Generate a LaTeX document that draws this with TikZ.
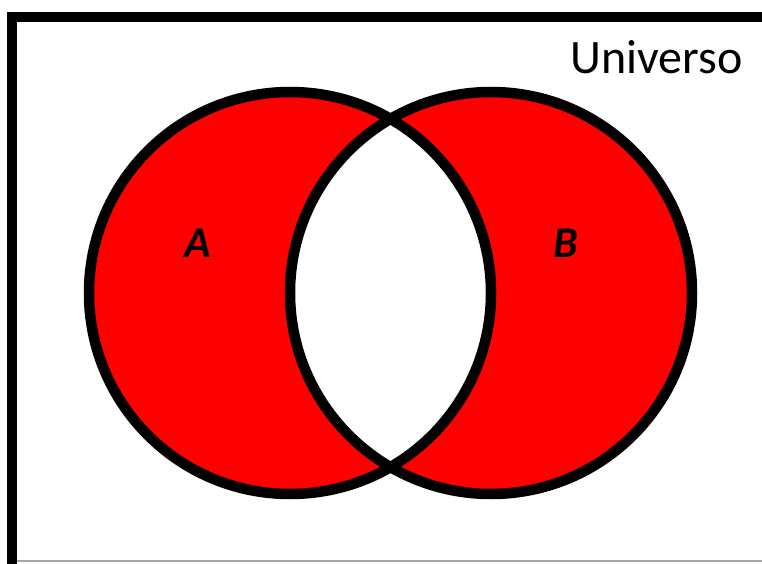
\documentclass[tikz,border=0pt]{standalone}
\usepackage{fontspec}
\setmainfont{Carlito}
\definecolor{vennred}{RGB}{255,0,0}
\tikzset{
  ring/.style={draw=black, line width=10.5pt},
  setlabel/.style={font=\fontsize{44}{44}\selectfont\bfseries\itshape, text=black},
  unilabel/.style={font=\fontsize{48}{48}\selectfont, text=black}
}
\begin{document}
\begin{tikzpicture}[x=1pt,y=-1pt]
\useasboundingbox (0,0) rectangle (762,564);
\fill[white] (0,0) rectangle (762,564);
% frame
\draw[line width=10pt, line join=miter] (12,564) -- (12,17) -- (762,17);
\draw[gray!70, line width=2pt] (17,561) -- (762,561);
% circles
\coordinate (ca) at (290,293);
\coordinate (cb) at (491,293);
\fill[vennred, even odd rule] (ca) circle[radius=201] (cb) circle[radius=201];
\draw[ring] (ca) circle[radius=201];
\draw[ring] (cb) circle[radius=201];
% labels
\node[setlabel] (la) at (198,243) {A};
\node[setlabel] (lb) at (566,243) {B};
\node[unilabel, anchor=base east] (uni) at (746,74) {Universo};
\end{tikzpicture}
\end{document}
